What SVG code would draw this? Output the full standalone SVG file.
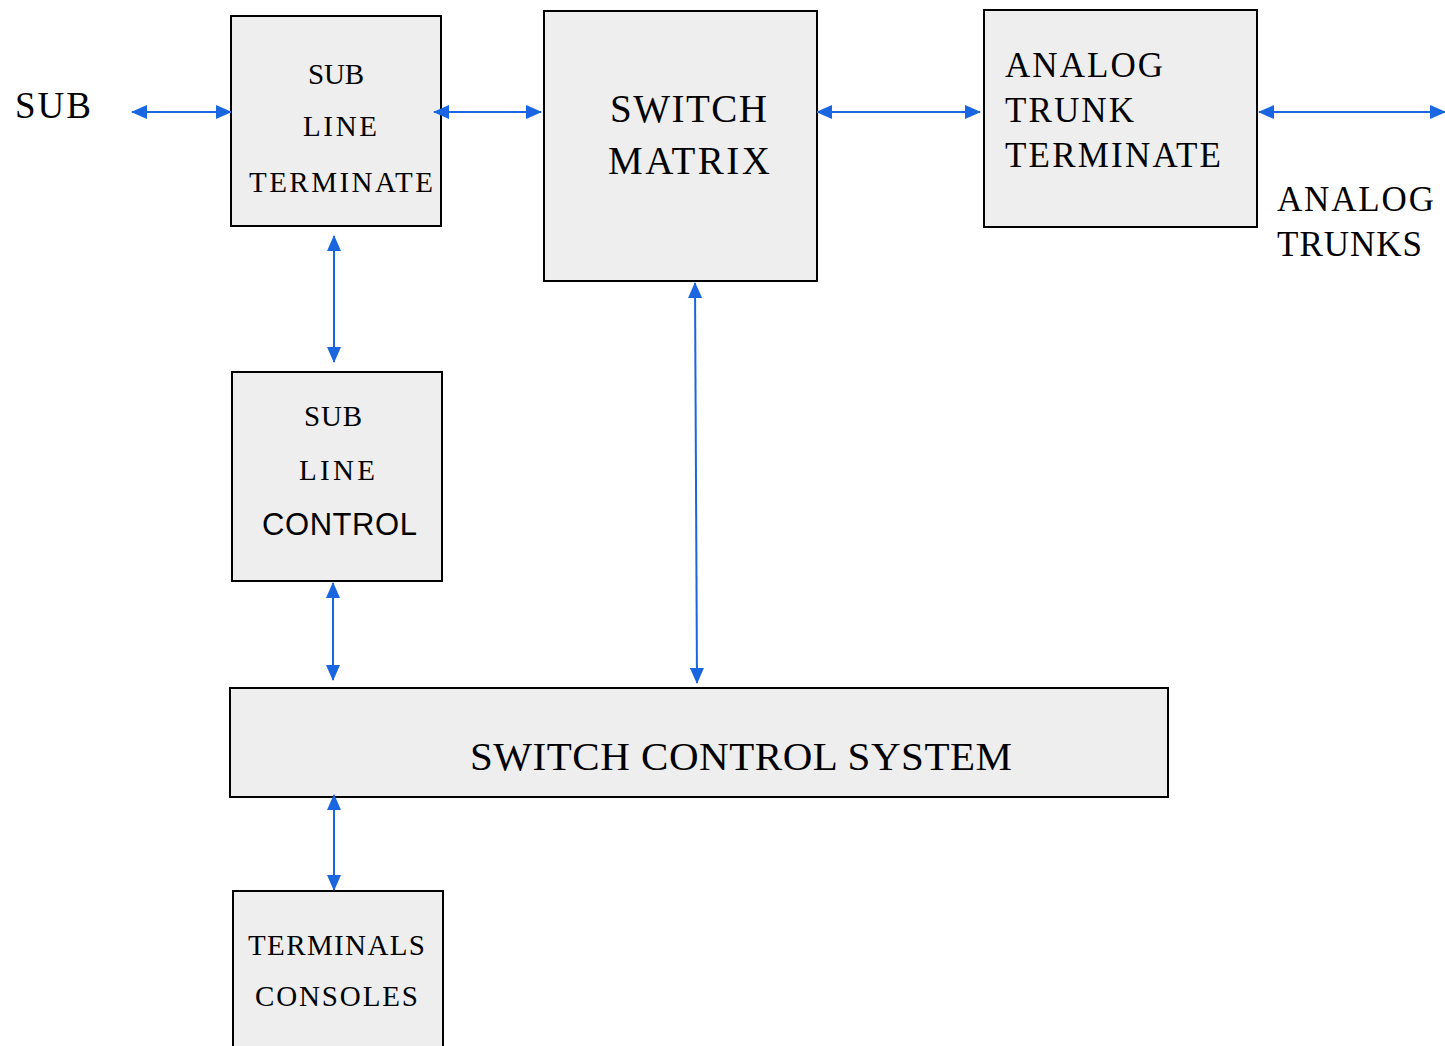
<svg xmlns="http://www.w3.org/2000/svg" width="1445" height="1046" viewBox="0 0 1445 1046">
<style>
.box{fill:#eeeeee;stroke:#000;stroke-width:2}
.t{font-family:"Liberation Serif",serif;fill:#000}
.s{font-family:"Liberation Sans",sans-serif;fill:#000}
.c{stroke:#1a66e0;stroke-width:2;fill:none;marker-start:url(#a);marker-end:url(#a)}
</style>
<defs>
<marker id="a" viewBox="0 0 16 14" refX="15" refY="7" markerWidth="16" markerHeight="14" markerUnits="userSpaceOnUse" orient="auto-start-reverse">
<path d="M0,0 L16,7 L0,14 Z" fill="#1a66e0"/>
</marker>
</defs>
<rect width="1445" height="1046" fill="#fff"/>
<text class="t" x="15" y="118" font-size="37" textLength="76" lengthAdjust="spacing">SUB</text>
<text class="t" x="1277" y="211" font-size="35" textLength="157" lengthAdjust="spacing">ANALOG</text>
<text class="t" x="1277" y="256" font-size="35" textLength="145" lengthAdjust="spacing">TRUNKS</text>
<g id="sub-line-terminate">
<rect class="box" x="231" y="16" width="210" height="210"/>
<text class="t" x="308" y="84" font-size="29" textLength="56" lengthAdjust="spacing">SUB</text>
<text class="t" x="303" y="136" font-size="29" textLength="74" lengthAdjust="spacing">LINE</text>
<text class="t" x="249" y="192" font-size="29" textLength="184" lengthAdjust="spacing">TERMINATE</text>
</g>
<g id="switch-matrix">
<rect class="box" x="544" y="11" width="273" height="270"/>
<text class="t" x="610" y="122" font-size="39" textLength="157" lengthAdjust="spacing">SWITCH</text>
<text class="t" x="608" y="174" font-size="39" textLength="162" lengthAdjust="spacing">MATRIX</text>
</g>
<g id="analog-trunk-terminate">
<rect class="box" x="984" y="10" width="273" height="217"/>
<text class="t" x="1005" y="77" font-size="35" textLength="158" lengthAdjust="spacing">ANALOG</text>
<text class="t" x="1005" y="122" font-size="35" textLength="129" lengthAdjust="spacing">TRUNK</text>
<text class="t" x="1005" y="167" font-size="35" textLength="216" lengthAdjust="spacing">TERMINATE</text>
</g>
<g id="sub-line-control">
<rect class="box" x="232" y="372" width="210" height="209"/>
<text class="t" x="304" y="426" font-size="29" textLength="58" lengthAdjust="spacing">SUB</text>
<text class="t" x="299" y="480" font-size="29" textLength="76" lengthAdjust="spacing">LINE</text>
<text class="s" x="262" y="535" font-size="31" textLength="155" lengthAdjust="spacing">CONTROL</text>
</g>
<g id="switch-control-system">
<rect class="box" x="230" y="688" width="938" height="109"/>
<text class="t" x="470" y="770" font-size="41" textLength="542" lengthAdjust="spacing">SWITCH CONTROL SYSTEM</text>
</g>
<g id="terminals-consoles">
<rect class="box" x="233" y="891" width="210" height="170"/>
<text class="t" x="248" y="955" font-size="29" textLength="177" lengthAdjust="spacing">TERMINALS</text>
<text class="t" x="255" y="1006" font-size="29" textLength="163" lengthAdjust="spacing">CONSOLES</text>
</g>
<g id="connectors">
<path class="c" d="M132,112 H231"/>
<path class="c" d="M434,112 H541"/>
<path class="c" d="M817,112 H980"/>
<path class="c" d="M1259,112 H1445"/>
<path class="c" d="M334,236 V362"/>
<path class="c" d="M333,583 V680"/>
<path class="c" d="M695,283 L697,683"/>
<path class="c" d="M334,795 V890"/>
</g>
</svg>
